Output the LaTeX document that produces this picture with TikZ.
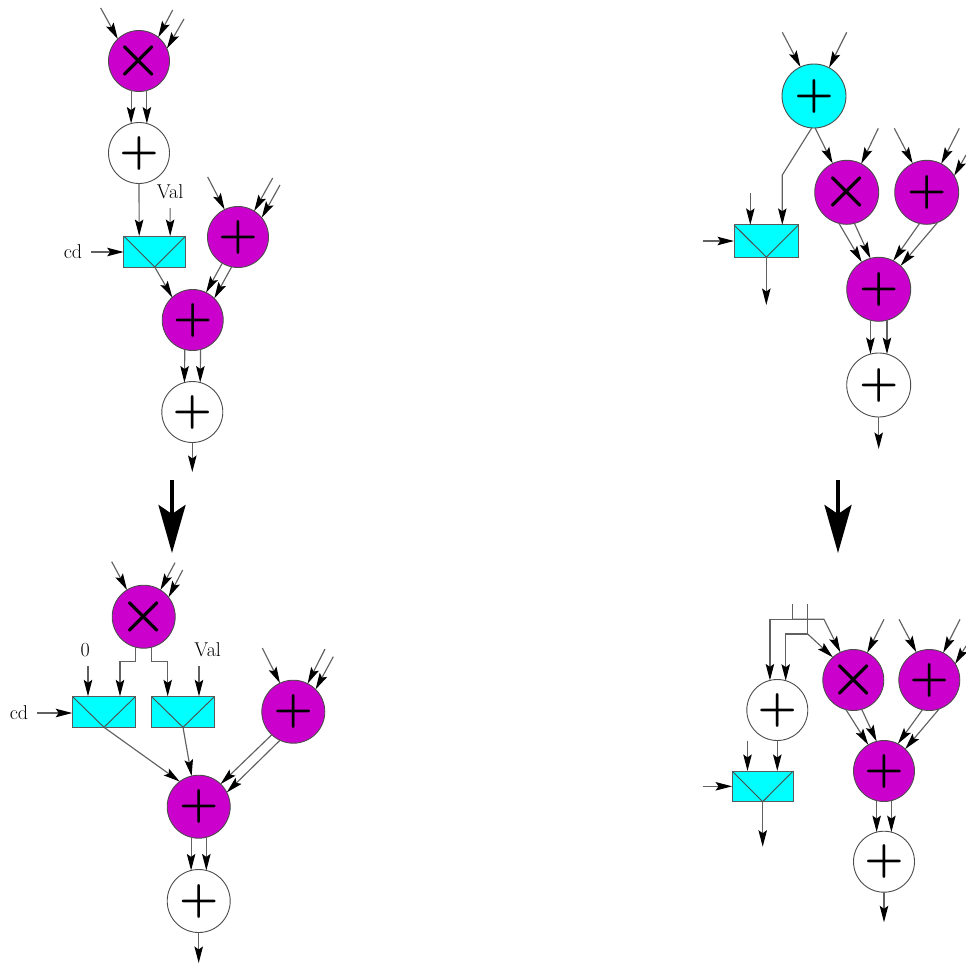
\documentclass[tikz,border=0pt]{standalone}
\usepackage{graphicx}
\usetikzlibrary{arrows.meta}
\definecolor{opmag}{RGB}{204,0,204}
\definecolor{opcya}{RGB}{0,255,255}
\newcommand{\opsum}{\scalebox{4.4}{\boldmath$+$}}
\newcommand{\opmul}{\scalebox{5.4}{\boldmath$\times$}}
\begin{document}
\begin{tikzpicture}[x=1pt, y=-1pt,
   wire/.style={draw=black!62, line width=1.15pt, -{Stealth[length=16.5pt,width=8.5pt,inset=3pt,black]}},
   line/.style={draw=black!62, line width=1.15pt},
   fat/.style={line width=3.8pt, -{Stealth[length=48pt,width=27pt,inset=9pt]}},
   op/.style={circle, draw=black!70, line width=.9pt, inner sep=0pt, outer sep=0pt, minimum size=61pt},
   sum/.style={op, fill=white},
   summ/.style={op, fill=opmag},
   sumc/.style={op, fill=opcya},
   prod/.style={summ, inner sep=-8pt},
   mux/.style={rectangle, draw=black!65, fill=opcya, line width=.9pt, inner sep=0pt, outer sep=0pt,
      minimum width=62pt, minimum height=31pt,
      path picture={\draw[black!70, line width=.9pt] (path picture bounding box.north west)
         -- (path picture bounding box.south) -- (path picture bounding box.north east);}},
   lbl/.style={inner sep=1pt, outer sep=8pt, text=black, font=\fontsize{20}{20}\selectfont}]
   \useasboundingbox (0,0) rectangle (966,964);
   %arriba izquierda
   \node[prod] (mulA) at (139,61) {\opmul};
   \node[sum] (addA) at (139,153) {\opsum};
   \node[mux] (muxA) at (154.7,251.5) {};
   \node[summ] (addB) at (238,237) {\opsum};
   \node[summ] (addC) at (192.7,320) {\opsum};
   \node[sum] (addD) at (192.3,412) {\opsum};
   \node[lbl] (valA) at (170,192) {Val};
   \node[lbl] (cdA) at (73,252) {cd};
   \coordinate (inA1) at (100.7,8);
   \coordinate (inA2) at (172.7,10);
   \coordinate (inA3) at (184,19);
   \coordinate (inB1) at (207.7,177);
   \coordinate (inB2) at (272.7,178);
   \coordinate (inB3) at (280,185);
   \coordinate (outD) at (192.3,472);
   \draw[wire] (inA1) -- (mulA.134);
   \draw[wire] (inA2) -- (mulA.51);
   \draw[wire] (inA3) -- (mulA.24);
   \draw[wire] (mulA.-105) -- (addA.105);
   \draw[wire] (mulA.-75) -- (addA.75);
   \draw[wire] (addA.270) -- ([xshift=-15.5pt]muxA.north);
   \draw[wire] (valA) -- ([xshift=15.5pt]muxA.north);
   \draw[wire] (cdA.east) -- (cdA.east -| muxA.west);
   \draw[wire] (muxA.south) -- (addC.132);
   \draw[wire] (inB1) -- (addB.116);
   \draw[wire] (inB2) -- (addB.58);
   \draw[wire] (inB3) -- (addB.39);
   \draw[wire] (addB.-121) -- (addC.64);
   \draw[wire] (addB.-102) -- (addC.45);
   \draw[wire] (addC.-105) -- (addD.105);
   \draw[wire] (addC.-75) -- (addD.75);
   \draw[wire] (addD.270) -- (outD);
   %flechas
   \coordinate (fatA) at (172,480);
   \coordinate (fatB) at (172,553);
   \coordinate (fatC) at (838,480);
   \coordinate (fatD) at (838,553);
   \draw[fat] (fatA) -- (fatB);
   \draw[fat] (fatC) -- (fatD);
   %abajo izquierda
   \node[prod, minimum size=63pt] (mulE) at (143.7,616.7) {\opmul};
   \node[mux, minimum width=63.5pt] (muxF) at (104,711.8) {};
   \node[mux, minimum width=63.5pt] (muxG) at (183,711.8) {};
   \node[summ, minimum size=63pt] (addE) at (293.3,711.7) {\opsum};
   \node[summ, minimum size=63pt] (addF) at (198.7,806.7) {\opsum};
   \node[sum, minimum size=63pt] (addG) at (198.7,901) {\opsum};
   \node[lbl] (zeroF) at (85.3,650) {0};
   \node[lbl] (valG) at (207.7,650) {Val};
   \node[lbl] (cdF) at (19,713) {cd};
   \coordinate (inE1) at (111.7,561.7);
   \coordinate (inE2) at (175,562.7);
   \coordinate (inE3) at (182.7,570);
   \coordinate (inH1) at (262.3,648);
   \coordinate (inH2) at (325,649);
   \coordinate (inH3) at (333.3,656.7);
   \coordinate (outG) at (198.7,963);
   \draw[wire] (inE1) -- (mulE.122);
   \draw[wire] (inE2) -- (mulE.58);
   \draw[wire] (inE3) -- (mulE.38);
   \draw[wire] (mulE.-105) -- ++(0,14) -| ([xshift=16pt]muxF.north);
   \draw[wire] (mulE.-76) -- ++(0,14) -| ([xshift=-15.3pt]muxG.north);
   \draw[wire] ([xshift=2.7pt]zeroF.south) -- ([xshift=-16pt]muxF.north);
   \draw[wire] ([xshift=-8.7pt]valG.south) -- ([xshift=16pt]muxG.north);
   \draw[wire] (cdF.east) -- (cdF.east -| muxF.west);
   \draw[wire] (muxF.south) -- (addF.127);
   \draw[wire] (muxG.south) -- (addF.103);
   \draw[wire] (inH1) -- (addE.115);
   \draw[wire] (inH2) -- (addE.63);
   \draw[wire] (inH3) -- (addE.45);
   \draw[wire] (addE.-133) -- (addF.46);
   \draw[wire] (addE.-115) -- (addF.27);
   \draw[wire] (addF.-104) -- (addG.104);
   \draw[wire] (addF.-76) -- (addG.76);
   \draw[wire] (addG.270) -- (outG);
   %arriba derecha
   \node[sumc, minimum size=64pt] (addH) at (814,96) {\opsum};
   \node[prod, minimum size=64pt] (mulI) at (846.7,192.3) {\opmul};
   \node[summ, minimum size=64pt] (addJ) at (926.7,192.3) {\opsum};
   \node[summ, minimum size=64pt] (addK) at (878.7,289.3) {\opsum};
   \node[sum, minimum size=64pt] (addL) at (878.7,385) {\opsum};
   \node[mux, minimum width=64.7pt, minimum height=32.3pt] (muxM) at (766.3,241) {};
   \coordinate (inH4) at (782.3,32.3);
   \coordinate (inH5) at (846.7,32.3);
   \coordinate (bendH) at (782.3,175);
   \coordinate (inM1) at (750.3,192.7);
   \coordinate (inM2) at (702.7,241);
   \coordinate (outM) at (766.3,305);
   \coordinate (inI) at (878.3,128.3);
   \coordinate (inJ1) at (894.3,128.3);
   \coordinate (inJ2) at (959.3,128.3);
   \coordinate (inJ3) at (966,155);
   \coordinate (outL) at (878.7,449);
   \draw[wire] (inH4) -- (addH.115);
   \draw[wire] (inH5) -- (addH.62);
   \draw[wire] (addH.-88) -- (mulI.116);
   \draw[wire] (addH.-94) -- (bendH) -- ([xshift=16pt]muxM.north);
   \draw[wire] (inM1) -- ([xshift=-16pt]muxM.north);
   \draw[wire] (inM2) -- (muxM.west);
   \draw[wire] (muxM.south) -- (outM);
   \draw[wire] (inI) -- (mulI.63);
   \draw[wire] (inJ1) -- (addJ.116);
   \draw[wire] (inJ2) -- (addJ.63);
   \draw[wire] (inJ3) -- (addJ.31);
   \draw[wire] (mulI.-104) -- (addK.122);
   \draw[wire] (mulI.-76) -- (addK.105);
   \draw[wire] (addJ.-103) -- (addK.63);
   \draw[wire] (addJ.-70) -- (addK.47);
   \draw[wire] (addK.-105) -- (addL.105);
   \draw[wire] (addK.-75) -- (addL.75);
   \draw[wire] (addL.270) -- (outL);
   %abajo derecha
   \node[prod] (mulN) at (853.3,680) {\opmul};
   \node[summ] (addO) at (929.3,680) {\opsum};
   \node[summ] (addP) at (884,771) {\opsum};
   \node[sum] (addQ) at (884,861.7) {\opsum};
   \node[sum] (addR) at (777.3,710) {\opsum};
   \node[mux, minimum width=61.3pt, minimum height=30.7pt] (muxS) at (762.7,786.3) {};
   \coordinate (stubA) at (792.7,604);
   \coordinate (juncA) at (792.7,619.3);
   \coordinate (bendA) at (824,619.3);
   \coordinate (stubB) at (807.7,604);
   \coordinate (juncB) at (807.7,634);
   \coordinate (inN) at (884,619.3);
   \coordinate (inO1) at (899,619.3);
   \coordinate (inO2) at (960,619.3);
   \coordinate (inO3) at (966,646);
   \coordinate (inS1) at (747.5,740.7);
   \coordinate (inS2) at (702.7,786.3);
   \coordinate (outS) at (762.7,846.7);
   \coordinate (outQ) at (884,922.3);
   \draw[line] (stubA) -- (juncA);
   \draw[line] (stubB) -- (juncB);
   \draw[wire] (juncA) -| (addR.104);
   \draw[wire] (juncB) -| (addR.74);
   \draw[wire] (juncA) -- (bendA) -- (mulN.115);
   \draw[wire] (juncB) -- (mulN.132);
   \draw[wire] (inN) -- (mulN.63);
   \draw[wire] (inO1) -- (addO.115);
   \draw[wire] (inO2) -- (addO.63);
   \draw[wire] (inO3) -- (addO.32);
   \draw[wire] (mulN.-104) -- (addP.121);
   \draw[wire] (mulN.-74) -- (addP.104);
   \draw[wire] (addO.-103) -- (addP.63);
   \draw[wire] (addO.-71) -- (addP.46);
   \draw[wire] (addP.-104) -- (addQ.104);
   \draw[wire] (addP.-76) -- (addQ.76);
   \draw[wire] (addQ.270) -- (outQ);
   \draw[wire] (addR.270) -- ([xshift=14.6pt]muxS.north);
   \draw[wire] (inS1) -- ([xshift=-15.2pt]muxS.north);
   \draw[wire] (inS2) -- (muxS.west);
   \draw[wire] (muxS.south) -- (outS);
\end{tikzpicture}
\end{document}
